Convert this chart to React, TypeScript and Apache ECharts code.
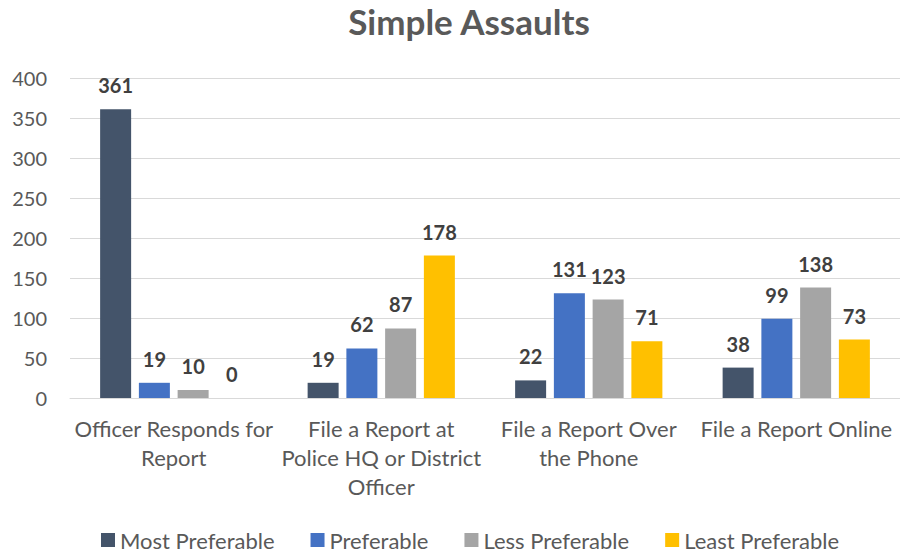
import React, { useEffect, useRef } from "react";
import * as echarts from "echarts";

const categories = [
  "Officer Responds for\nReport",
  "File a Report at\nPolice HQ or District\nOfficer",
  "File a Report Over\nthe Phone",
  "File a Report Online",
];
const seriesNames = ["Most Preferable", "Preferable", "Less Preferable", "Least Preferable"];
const mostPreferable = [361, 19, 22, 38];
const preferable = [19, 62, 131, 99];
const lessPreferable = [10, 87, 123, 138];
const leastPreferable = [0, 178, 71, 73];
const yTicks = [0, 50, 100, 150, 200, 250, 300, 350, 400];

const colors = ["#44546A", "#4472C4", "#A5A5A5", "#FFC000"];
const FONT = "Lato, 'Open Sans', sans-serif";

export default function App() {
  const ref = useRef<HTMLDivElement>(null);
  useEffect(() => {
    document.body.style.margin = "0";
    const chart = echarts.init(ref.current!, null, { renderer: "svg" });
    const values = [mostPreferable, preferable, lessPreferable, leastPreferable];
    chart.setOption({
      animation: false,
      color: colors,
      textStyle: { fontFamily: FONT },
      title: {
        text: "Simple Assaults",
        left: 464,
        textAlign: "center",
        top: -2,
        textStyle: { fontSize: 35, fontWeight: "bold", color: "#595959", fontFamily: FONT },
      },
      legend: {
        top: 524,
        left: 96,
        itemWidth: 14,
        itemHeight: 14,
        itemGap: 36,
        icon: "rect",
        textStyle: { fontSize: 22, color: "#595959", fontFamily: FONT },
        data: seriesNames,
      },
      grid: { left: 70, right: 0, top: 78, bottom: 154 },
      xAxis: {
        type: "category",
        data: categories,
        axisLine: { lineStyle: { color: "#D9D9D9" } },
        axisTick: { show: false },
        axisLabel: {
          fontSize: 22,
          color: "#595959",
          lineHeight: 29,
          margin: 16,
          interval: 0,
          fontFamily: FONT,
        },
      },
      yAxis: {
        type: "value",
        min: yTicks[0],
        max: yTicks[yTicks.length - 1],
        interval: 50,
        axisLine: { show: false },
        axisTick: { show: false },
        splitLine: { lineStyle: { color: "#D9D9D9" } },
        axisLabel: { fontSize: 20, color: "#595959", margin: 23, fontFamily: FONT },
      },
      series: seriesNames.map((name, i) => ({
        name,
        type: "bar",
        data: values[i],
        barWidth: 31,
        barGap: "25%",
        label: {
          show: true,
          position: "top",
          distance: 14,
          fontSize: 20,
          fontWeight: "bold",
          color: "#404040",
          fontFamily: FONT,
        },
      })),
    });
    return () => chart.dispose();
  }, []);
  return <div ref={ref} style={{ width: 900, height: 552 }} />;
}
